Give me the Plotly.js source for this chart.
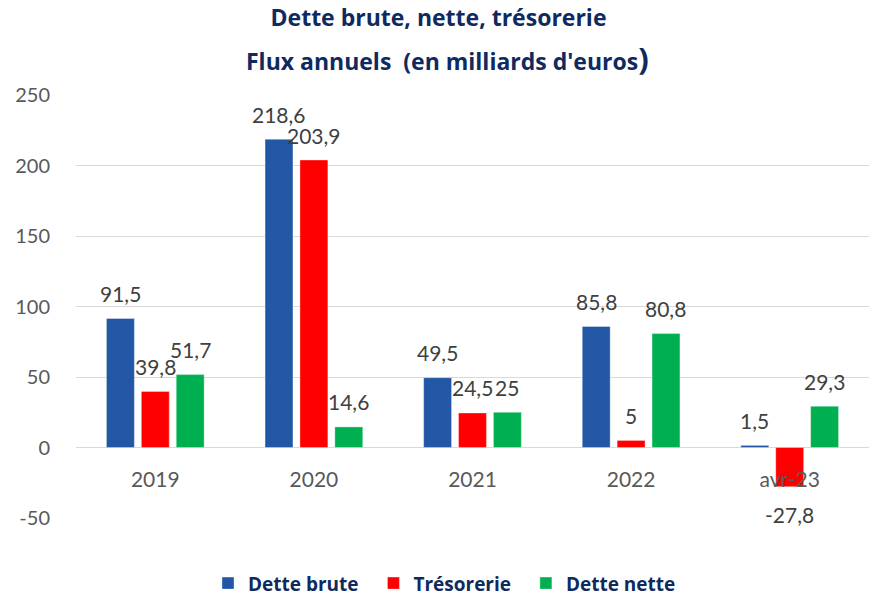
<!DOCTYPE html>
<html>
<head>
<meta charset="utf-8">
<script src="https://cdn.plot.ly/plotly-3.0.1.min.js"></script>
<style>html,body{margin:0;padding:0;background:#fff;}#chart{width:877px;height:597px;}</style>
</head>
<body>
<div id="chart"></div>
<script>
const categories = ["2019", "2020", "2021", "2022", "avr-23"];
const detteBrute = [91.5, 218.6, 49.5, 85.8, 1.5];
const tresorerie = [39.8, 203.9, 24.5, 5, -27.8];
const detteNette = [51.7, 14.6, 25, 80.8, 29.3];
const seriesNames = ['Dette brute', 'Trésorerie', 'Dette nette'];
const seriesColors = ['#2157A5', '#FF0000', '#00B050'];
const yTicks = [-50, 0, 50, 100, 150, 200, 250];

const FONT = "Lato, 'Open Sans', sans-serif";
const TFONT = "'Open Sans', Lato, sans-serif";
const NAVY = '#0E2A5E';
const BARGAP = 0.34;
const fmt = v => String(v).replace('.', ',');

const allValues = [detteBrute, tresorerie, detteNette];

const data = allValues.map((values, k) => ({
  type: 'bar',
  name: '<b>' + seriesNames[k] + '</b>' + (k < 2 ? '&nbsp;&nbsp;' : ''),
  x: categories, y: values,
  marker: {color: seriesColors[k], line: {color: 'rgba(255,255,255,0.35)', width: 1}},
  hoverinfo: 'x+y'
}));

// Data labels placed through the category/value scales (Excel-like offset from bar end)
const slot = (1 - BARGAP) / 3;
const labelAnnots = [];
allValues.forEach((values, k) => {
  values.forEach((v, i) => {
    labelAnnots.push({
      xref: 'x', yref: 'y', x: i + (k - 1) * slot, y: v,
      yshift: v >= 0 ? 25 : -28, xanchor: 'center', yanchor: 'middle',
      text: fmt(v), showarrow: false,
      font: {family: FONT, size: 21, color: '#404040'}
    });
  });
});

const layout = {
  width: 877, height: 597,
  margin: {l: 76, r: 8, t: 95, b: 79},
  paper_bgcolor: '#fff', plot_bgcolor: '#fff',
  barmode: 'group', bargap: BARGAP, bargroupgap: 0.2,
  showlegend: true,
  legend: {orientation: 'h', x: 0.5 + 6/877, xref: 'container', xanchor: 'center',
           y: 0.023, yref: 'container', yanchor: 'middle',
           font: {family: TFONT, size: 19, color: NAVY, weight: 700},
           itemwidth: 30, tracegroupgap: 0},
  title: {text: 'Dette brute, nette, trésorerie', x: 0.5, xref: 'container', xanchor: 'center',
          y: 1 - 18/597, yanchor: 'middle', yref: 'container',
          font: {family: TFONT, size: 23, color: NAVY, weight: 700}},
  annotations: [{
    text: '<b>Flux annuels&nbsp; (en milliards d\'euros</b><span style="font-size:31px">)</span>',
    xref: 'paper', yref: 'paper', x: (447 - 76) / (877 - 84), y: 1.0, yshift: 95 - 58,
    xanchor: 'center', yanchor: 'middle',
    showarrow: false, font: {family: TFONT, size: 23, color: NAVY, weight: 700}
  }].concat(labelAnnots),
  xaxis: {
    type: 'category', anchor: 'free', position: 1/6,
    showgrid: false, showline: false, zeroline: false,
    ticks: 'outside', ticklen: 13, tickcolor: 'rgba(0,0,0,0)',
    tickfont: {family: FONT, size: 21, color: '#595959'}
  },
  yaxis: {
    range: [-50, 250], tickvals: yTicks, ticktext: yTicks.map(String),
    showgrid: true, gridcolor: '#D9D9D9', gridwidth: 1,
    zeroline: true, zerolinecolor: '#D9D9D9', zerolinewidth: 1,
    showline: false,
    ticks: 'outside', ticklen: 21, tickcolor: 'rgba(0,0,0,0)',
    tickfont: {family: FONT, size: 20, color: '#595959'}
  },
  separators: ', '
};

Plotly.newPlot('chart', data, layout, {displayModeBar: false, staticPlot: true});
</script>
</body>
</html>
